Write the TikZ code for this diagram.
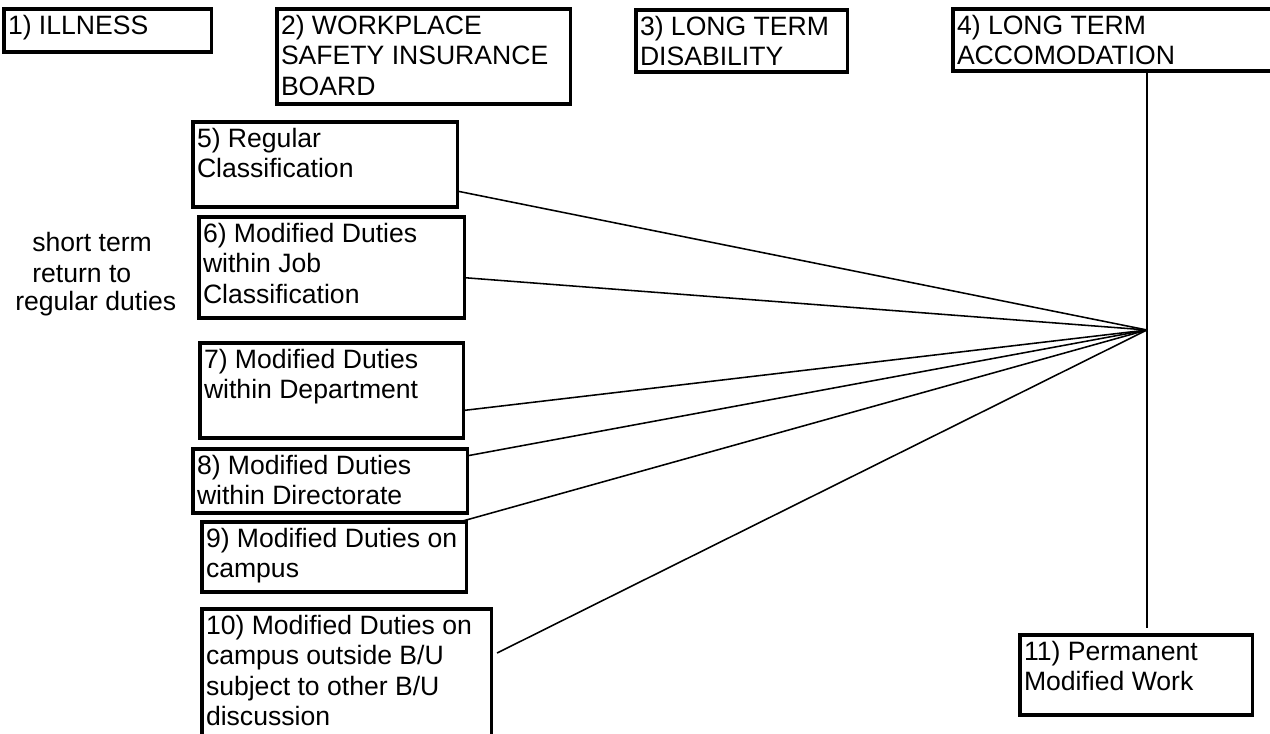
\documentclass[tikz,border=0pt]{standalone}
\usepackage{fontspec}
\setmainfont{Liberation Sans}
\usetikzlibrary{positioning,calc}

\newcommand{\labelfont}{\fontsize{18.9pt}{21.7pt}\selectfont}
\newcommand{\cardtext}[3]{\parbox[t][#2cm][t]{#1cm}{\strut#3}}

\begin{document}
\begin{tikzpicture}[
    x=0.025cm, y=-0.025cm,
    card/.style={rectangle, draw=black, line width=2.2pt, anchor=north west, inner xsep=0.1cm, inner ysep=0.1cm, outer sep=0pt, font=\labelfont},
    note/.style={inner sep=0pt, anchor=base west, font=\labelfont},
    link/.style={line width=1.1pt, draw=black}
]
\useasboundingbox (0,0) rectangle (1270,734);

% top row
\node[card] (b1) at (4,9) {\cardtext{4.975}{0.875}{1) ILLNESS}};
\node[card] (b2) at (277,9) {\cardtext{7.125}{2.175}{2) WORKPLACE\\SAFETY INSURANCE\\BOARD}};
\node[card] (b3) at (636,10) {\cardtext{5.075}{1.35}{3) LONG TERM\\DISABILITY}};
\node[card] (b4) at (953,9) {\cardtext{8.1}{1.35}{4) LONG TERM\\ACCOMODATION}};

% column of options
\node[card] (b5) at (193,122) {\cardtext{6.4}{1.925}{5) Regular\\Classification}};
\node[card] (b6) at (199,217) {\cardtext{6.425}{2.325}{6) Modified Duties\\within Job\\Classification}};
\node[card] (b7) at (200,343) {\cardtext{6.375}{2.175}{7) Modified Duties\\within Department}};
\node[card] (b8) at (193,449) {\cardtext{6.65}{1.4}{8) Modified Duties\\within Directorate}};
\node[card] (b9) at (202,522) {\cardtext{6.4}{1.55}{9) Modified Duties on\\campus}};
\node[card] (b10) at (202,609) {\cardtext{7.025}{3.575}{10) Modified Duties on\\campus outside B/U\\subject to other B/U\\discussion}};
\node[card] (b11) at (1020,635) {\cardtext{5.6}{1.8}{11) Permanent\\Modified Work}};

% side notes
\node[note] (st) at (32,252) {short term};
\node[note] (rt) at (32,283) {return to};
\node[note] (rd) at (15,311) {regular duties};

% fan of lines
\coordinate (hub) at (1147,330);
\coordinate (e7) at ($(b7.east)+(0,20)$);
\coordinate (e10) at ($(b10.north east)+(6,44)$);
\draw[link] (b4.south -| hub) -- ($(b11.north -| hub)+(0,-7)$);
\foreach \n in {b5,b6,e7,b8,b9,e10}
    \draw[link] (hub) -- (\n);
\end{tikzpicture}
\end{document}
